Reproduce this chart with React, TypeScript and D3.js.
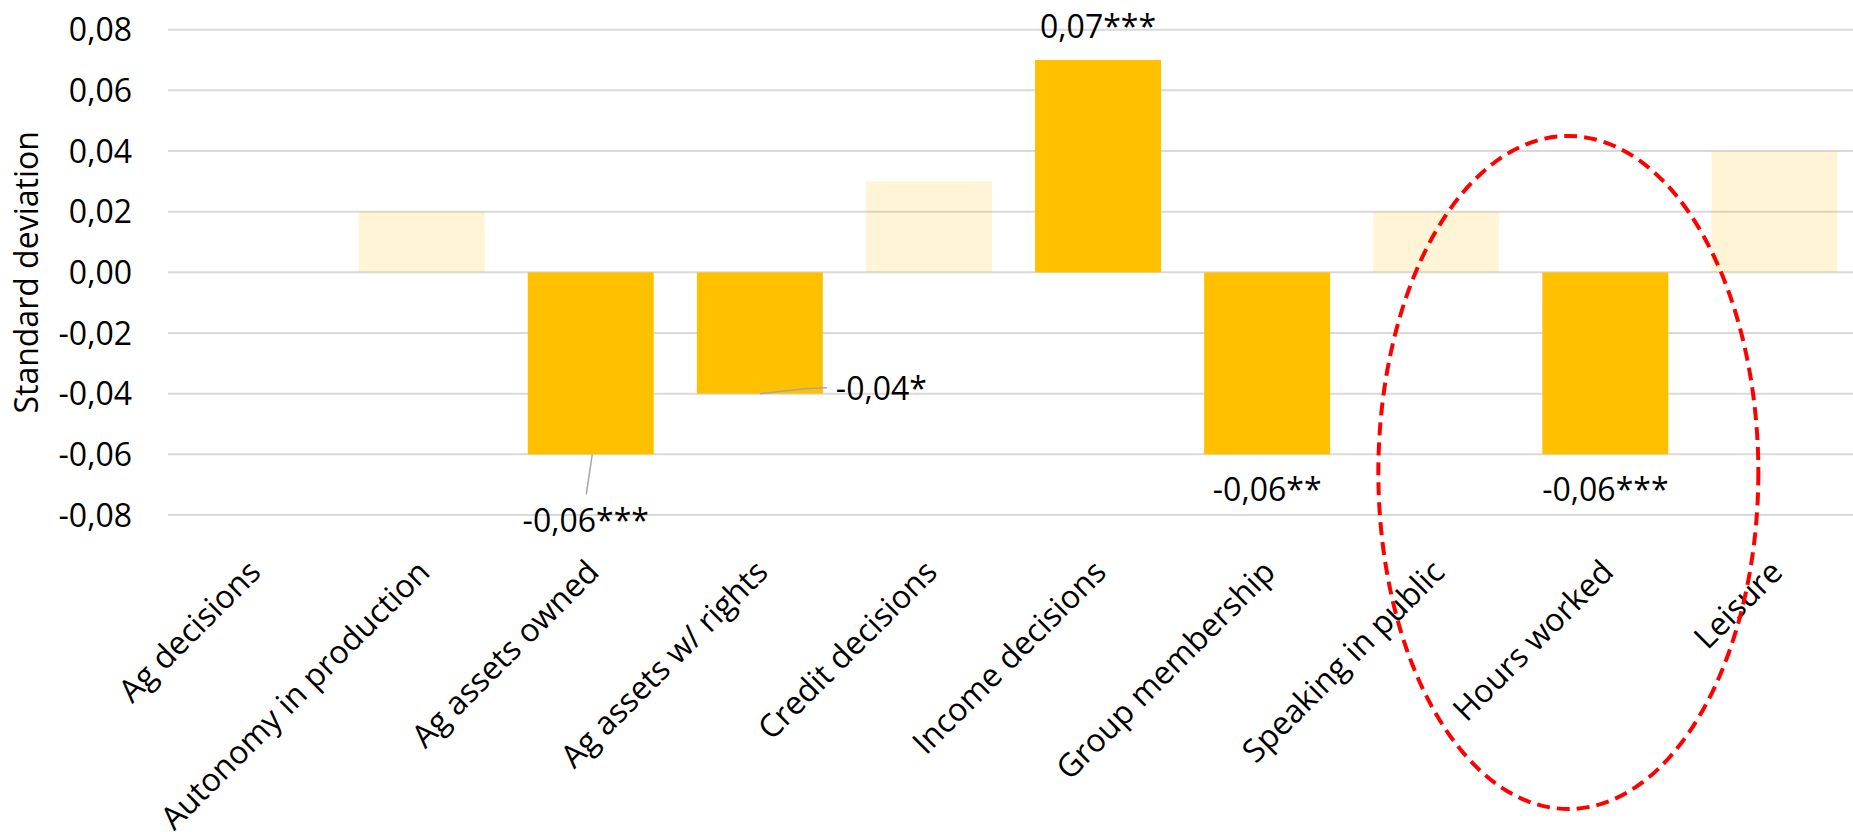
import React from "react";
import * as d3 from "d3";

// Categories along the x axis
const categories = [
  "Ag decisions",
  "Autonomy in production",
  "Ag assets owned",
  "Ag assets w/ rights",
  "Credit decisions",
  "Income decisions",
  "Group membership",
  "Speaking in public",
  "Hours worked",
  "Leisure",
];

// Effect size in standard deviations
const values = [0, 0.02, -0.06, -0.04, 0.03, 0.07, -0.06, 0.02, -0.06, 0.04];

// Significance stars (empty = not significant)
const stars = ["", "", "***", "*", "", "***", "**", "", "***", ""];

// Y-axis ticks
const yTicks = [0.08, 0.06, 0.04, 0.02, 0, -0.02, -0.04, -0.06, -0.08];

const W = 1853;
const H = 832;
const FONT = "'Open Sans', 'Noto Sans', sans-serif";
const GOLD = "#FFC000";

const fmt = (v: number) => d3.format(".2f")(v).replace(".", ",").replace("−", "-");

export default function App() {
  const x = d3
    .scaleBand<string>()
    .domain(categories)
    .range([168, 1859])
    .paddingInner(0.255)
    .paddingOuter(0.1275);
  const y = d3.scaleLinear().domain([-0.08, 0.08]).range([515, 29.7]);
  const bw = x.bandwidth();
  const cx = (c: string) => (x(c) as number) + bw / 2;

  return (
    <svg
      width={W}
      height={H}
      style={{ position: "absolute", left: 0, top: 0, background: "#fff" }}
      fontFamily={FONT}
    >
      {/* grid */}
      {yTicks.map((t) => (
        <line
          key={"g" + t}
          x1={168}
          x2={W}
          y1={y(t)}
          y2={y(t)}
          stroke="#D9D9D9"
          strokeWidth={2}
        />
      ))}

      {/* y tick labels */}
      {yTicks.map((t) => (
        <text
          key={"t" + t}
          x={132}
          y={y(t)}
          dy="0.36em"
          textAnchor="end"
          fontSize={32}
          fill="#000"
        >
          {fmt(t)}
        </text>
      ))}

      {/* y title */}
      <text
        transform={`translate(26,${(y(0.08) + y(-0.08)) / 2}) rotate(-90)`}
        textAnchor="middle"
        dy="0.36em"
        fontSize={32}
        fill="#000"
      >
        Standard deviation
      </text>

      {/* bars */}
      {categories.map((c, i) => {
        const v = values[i];
        if (v === 0) return null;
        const sig = stars[i] !== "";
        return (
          <rect
            key={"b" + c}
            x={x(c)}
            width={bw}
            y={Math.min(y(v), y(0))}
            height={Math.abs(y(v) - y(0))}
            fill={GOLD}
            fillOpacity={sig ? 1 : 0.16}
          />
        );
      })}

      {/* value labels for significant effects */}
      {categories.map((c, i) => {
        const v = values[i];
        if (stars[i] === "") return null;
        const label = fmt(v) + stars[i];
        const xc = cx(c);
        const yv = y(v);
        if (c === "Ag assets owned") {
          return (
            <g key={"l" + c}>
              <line x1={xc + 1.5} y1={yv} x2={xc - 4.5} y2={yv + 40} stroke="#A6A6A6" strokeWidth={1.5} />
              <text x={xc - 5} y={yv + 78} textAnchor="middle" fontSize={32} fill="#000">
                {label}
              </text>
            </g>
          );
        }
        if (c === "Ag assets w/ rights") {
          return (
            <g key={"l" + c}>
              <polyline
                points={`${xc},${yv} ${xc + 45},${yv - 5} ${xc + 67},${yv - 6}`}
                fill="none"
                stroke="#A6A6A6"
                strokeWidth={1.5}
              />
              <text x={xc + 76} y={yv + 6} textAnchor="start" fontSize={32} fill="#000">
                {label}
              </text>
            </g>
          );
        }
        return (
          <text
            key={"l" + c}
            x={xc}
            y={v > 0 ? yv - 22 : yv + 47}
            textAnchor="middle"
            fontSize={32}
            fill="#000"
          >
            {label}
          </text>
        );
      })}

      {/* category labels */}
      {categories.map((c) => (
        <text
          key={"c" + c}
          transform={`translate(${cx(c) + 10},${574}) rotate(-45)`}
          textAnchor="end"
          fontSize={32}
          fill="#000"
        >
          {c}
        </text>
      ))}

      {/* highlight around hours worked */}
      <ellipse
        cx={cx("Hours worked") - 37}
        cy={472.5}
        rx={190}
        ry={336.5}
        fill="none"
        stroke="#FF0000"
        strokeWidth={4}
        strokeDasharray="13 7"
      />
    </svg>
  );
}
